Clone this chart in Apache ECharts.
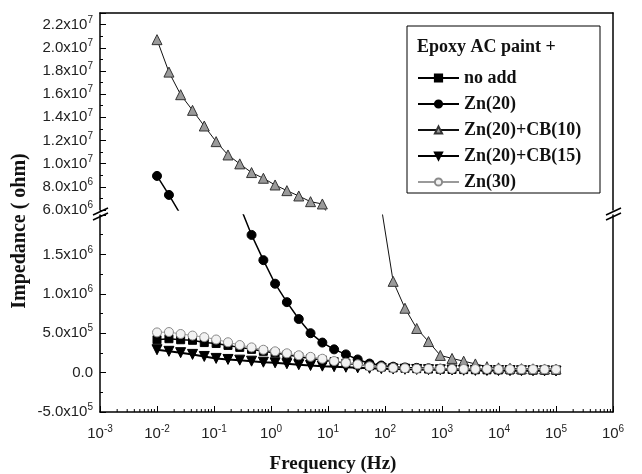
<!DOCTYPE html>
<html><head><meta charset="utf-8">
<script src="https://cdn.jsdelivr.net/npm/echarts@6/dist/echarts.min.js"></script>
<style>html,body{margin:0;padding:0;background:#fff}#c{width:642px;height:474px}</style>
</head><body><div id="c"></div>
<script>
// Frequencies (Hz)
const freq = [0.01, 0.0162, 0.026, 0.042, 0.0675, 0.109, 0.176, 0.283, 0.456, 0.735,
  1.18, 1.9, 3.07, 4.94, 7.96, 12.8, 20.6, 33.2, 53.5, 86.2,
  139, 224, 360, 580, 934, 1500, 2400, 3850, 6150, 9800,
  15600, 24800, 39500, 63000, 100000];
const seriesNames = ['no add', 'Zn(20)', 'Zn(20)+CB(10)', 'Zn(20)+CB(15)', 'Zn(30)'];
// Impedance (ohm)
const noAdd = [4.17e5, 4.3e5, 4.17e5, 4.1e5, 3.81e5, 3.7e5, 3.45e5, 3.2e5, 2.95e5, 2.7e5,
  2.5e5, 2.25e5, 2.0e5, 1.8e5, 1.6e5, 1.4e5, 1.2e5, 1.0e5, 8.5e4, 7.0e4,
  6.0e4, 5.5e4, 5.0e4, 4.5e4, 4.2e4, 4.0e4, 3.8e4, 3.6e4, 3.5e4, 3.4e4,
  3.3e4, 3.2e4, 3.1e4, 3.0e4, 3.0e4];
const zn20 = [8.94e6, 7.3e6, 5.6e6, 4.6e6, 3.8e6, 3.1e6, 2.6e6, 2.12e6, 1.747e6, 1.427e6,
  1.128e6, 8.94e5, 6.8e5, 5.0e5, 3.81e5, 2.95e5, 2.31e5, 1.67e5, 1.15e5, 9.0e4,
  7.5e4, 6.5e4, 6.0e4, 5.5e4, 5.0e4, 4.8e4, 4.5e4, 4.3e4, 4.1e4, 4.0e4,
  3.9e4, 3.8e4, 3.7e4, 3.6e4, 3.5e4];
const zn20cb10 = [2.07e7, 1.79e7, 1.595e7, 1.46e7, 1.325e7, 1.19e7, 1.075e7, 9.98e6, 9.23e6, 8.74e6,
  8.16e6, 7.67e6, 7.21e6, 6.72e6, 6.52e6, 4.5e6, 3.6e6, 3.0e6, 2.5e6, 2.1e6,
  1.158e6, 8.17e5, 5.6e5, 3.94e5, 2.18e5, 1.8e5, 1.45e5, 1.1e5, 7.5e4, 6.0e4,
  5.5e4, 5.0e4, 4.8e4, 4.6e4, 4.5e4];
const zn20cb15 = [2.9e5, 2.7e5, 2.53e5, 2.31e5, 2.05e5, 1.8e5, 1.67e5, 1.58e5, 1.45e5, 1.32e5,
  1.24e5, 1.12e5, 1.0e5, 9.0e4, 8.2e4, 7.5e4, 6.8e4, 6.0e4, 5.5e4, 5.0e4,
  4.5e4, 4.2e4, 4.0e4, 3.7e4, 3.5e4, 3.3e4, 3.0e4, 2.8e4, 2.7e4, 2.6e4,
  2.5e4, 2.4e4, 2.3e4, 2.2e4, 2.0e4];
const zn30 = [5.1e5, 5.15e5, 4.9e5, 4.7e5, 4.5e5, 4.2e5, 3.85e5, 3.5e5, 3.2e5, 2.9e5,
  2.7e5, 2.45e5, 2.2e5, 2.0e5, 1.76e5, 1.47e5, 1.25e5, 1.05e5, 8.0e4, 7.0e4,
  6.0e4, 5.5e4, 5.0e4, 5.0e4, 4.8e4, 4.7e4, 4.6e4, 4.5e4, 4.5e4, 4.4e4,
  4.3e4, 4.2e4, 4.2e4, 4.1e4, 4.0e4];
const allData = [noAdd, zn20, zn20cb10, zn20cb15, zn30];
// axis ranges / ticks
const xRange = [1e-3, 1e6];
const topRange = [6e6, 2.3e7], topStep = 2e6;
const botRange = [-5e5, 2e6], botStep = 5e5;
const legendTitle = 'Epoxy AC paint +';
const xTitle = 'Frequency (Hz)';
const yTitle = 'Impedance ( ohm)';

const styles = [
  {symbol: 'rect', size: 8, rot: 0, fill: '#000', border: '#000', lc: '#000', lw: 1.5},
  {symbol: 'circle', size: 9, rot: 0, fill: '#000', border: '#000', lc: '#000', lw: 1.5},
  {symbol: 'triangle', size: 10, rot: 0, fill: '#9a9a9a', border: '#333', lc: '#111', lw: 1},
  {symbol: 'triangle', size: 10, rot: 180, fill: '#000', border: '#000', lc: '#000', lw: 2},
  {symbol: 'circle', size: 9, rot: 0, fill: '#f2f2f2', border: '#8a8a8a', lc: '#9a9a9a', lw: 1}
];

const SANS = '"Liberation Sans", Arial, sans-serif';
const SERIF = '"Liberation Serif", "Times New Roman", serif';
const G0 = {left: 100, top: 13, width: 513, height: 197};
const G1 = {left: 100, top: 215, width: 513, height: 197};

const rich = {s: {fontSize: 10, fontFamily: SANS, color: '#222', padding: [0, 0, 9, 0]}};
function fmtTop(v) {
  const e = v >= 1e7 ? 7 : 6;
  return (v / Math.pow(10, e)).toFixed(1) + 'x10{s|' + e + '}';
}
function fmtBot(v) {
  if (Math.abs(v) < 1) return '0.0';
  const e = Math.abs(v) >= 1e6 ? 6 : 5;
  return (v / Math.pow(10, e)).toFixed(1) + 'x10{s|' + e + '}';
}
function fmtX(v) { return '10{s|' + Math.round(Math.log10(v)) + '}'; }

// minor log ticks 2..9 per decade
const minorFreqs = [];
for (let d = -3; d < 6; d++) for (let m = 2; m <= 9; m++) minorFreqs.push(m * Math.pow(10, d));

const series = [];
[0, 1].forEach(function (gi) {
  allData.forEach(function (arr, i) {
    const st = styles[i];
    series.push({
      name: seriesNames[i], type: 'line', xAxisIndex: gi, yAxisIndex: gi === 0 ? 0 : 2,
      data: freq.map(function (f, k) { return [f, arr[k]]; }),
      symbol: st.symbol, symbolSize: st.size, symbolRotate: st.rot,
      itemStyle: {color: st.fill, borderColor: st.border, borderWidth: 1},
      lineStyle: {color: st.lc, width: st.lw},
      clip: true, animation: false, z: 3 + i
    });
  });
});
series.push({
  type: 'custom', xAxisIndex: 1, yAxisIndex: 2, silent: true, animation: false,
  data: minorFreqs.map(function (f) { return [f, botRange[0]]; }),
  renderItem: function (params, api) {
    const p = api.coord([api.value(0), api.value(1)]);
    return {type: 'line', shape: {x1: p[0], y1: p[1], x2: p[0], y2: p[1] - 3},
      style: {stroke: '#000', lineWidth: 1}};
  }
});

const axisLineStyle = {color: '#000', width: 1.5};
const option = {
  backgroundColor: '#fff',
  animation: false,
  grid: [G0, G1],
  xAxis: [
    {gridIndex: 0, type: 'log', min: xRange[0], max: xRange[1], position: 'top',
      axisLine: {show: true, onZero: false, lineStyle: axisLineStyle}, axisTick: {show: false},
      axisLabel: {show: false}, splitLine: {show: false}},
    {gridIndex: 1, type: 'log', min: xRange[0], max: xRange[1], splitNumber: 10, position: 'bottom',
      axisLine: {show: true, onZero: false, lineStyle: axisLineStyle},
      axisTick: {show: true, inside: true, length: 6, lineStyle: {color: '#000', width: 1}},
      axisLabel: {formatter: fmtX, rich: rich, fontSize: 15, fontFamily: SANS, color: '#222', margin: 12},
      splitLine: {show: false}}
  ],
  yAxis: [
    {gridIndex: 0, type: 'value', min: topRange[0], max: topRange[1], interval: topStep,
      axisLine: {show: true, onZero: false, lineStyle: axisLineStyle},
      axisTick: {show: true, inside: true, length: 6, lineStyle: {color: '#000'}},
      minorTick: {show: true, splitNumber: 2, length: 3, lineStyle: {color: '#000'}},
      axisLabel: {formatter: fmtTop, rich: rich, fontSize: 15, fontFamily: SANS, color: '#222', showMaxLabel: false, margin: 7},
      splitLine: {show: false}},
    {gridIndex: 0, type: 'value', position: 'right', min: topRange[0], max: topRange[1],
      axisLine: {show: true, onZero: false, lineStyle: axisLineStyle}, axisTick: {show: false},
      axisLabel: {show: false}, splitLine: {show: false}},
    {gridIndex: 1, type: 'value', min: botRange[0], max: botRange[1], interval: botStep,
      axisLine: {show: true, onZero: false, lineStyle: axisLineStyle},
      axisTick: {show: true, inside: true, length: 6, lineStyle: {color: '#000'}},
      minorTick: {show: true, splitNumber: 2, length: 3, lineStyle: {color: '#000'}},
      axisLabel: {formatter: fmtBot, rich: rich, fontSize: 15, fontFamily: SANS, color: '#222', showMaxLabel: false, margin: 7},
      splitLine: {show: false}},
    {gridIndex: 1, type: 'value', position: 'right', min: botRange[0], max: botRange[1],
      axisLine: {show: true, onZero: false, lineStyle: axisLineStyle}, axisTick: {show: false},
      axisLabel: {show: false}, splitLine: {show: false}}
  ],
  legend: {
    data: seriesNames, orient: 'vertical', left: 412, top: 64,
    itemWidth: 41, itemHeight: 9, itemGap: 8, symbolRotate: 'inherit',
    textStyle: {fontFamily: SERIF, fontWeight: 'bold', fontSize: 18, color: '#111', lineHeight: 18}
  },
  graphic: [
    {type: 'rect', shape: {x: 407, y: 26, width: 193, height: 167}, style: {fill: 'none', stroke: '#000', lineWidth: 1}, z: 10},
    {type: 'text', x: 417, y: 47, style: {text: legendTitle, font: 'bold 18px ' + SERIF, fill: '#111', textVerticalAlign: 'middle'}, z: 10},
    {type: 'text', x: 20, y: 231, rotation: Math.PI / 2,
      style: {text: yTitle, font: 'bold 20px ' + SERIF, fill: '#111', textAlign: 'center', textVerticalAlign: 'middle'}, z: 10},
    {type: 'text', x: 333, y: 464,
      style: {text: xTitle, font: 'bold 19px ' + SERIF, fill: '#111', textAlign: 'center', textVerticalAlign: 'middle'}, z: 10},
    {type: 'line', shape: {x1: 93, y1: 215, x2: 108, y2: 208}, style: {stroke: '#000', lineWidth: 1.5}, z: 10},
    {type: 'line', shape: {x1: 93, y1: 220, x2: 108, y2: 213}, style: {stroke: '#000', lineWidth: 1.5}, z: 10},
    {type: 'line', shape: {x1: 606, y1: 215, x2: 621, y2: 208}, style: {stroke: '#000', lineWidth: 1.5}, z: 10},
    {type: 'line', shape: {x1: 606, y1: 220, x2: 621, y2: 213}, style: {stroke: '#000', lineWidth: 1.5}, z: 10}
  ],
  series: series
};
const chart = echarts.init(document.getElementById('c'), null, {renderer: 'canvas'});
chart.setOption(option);
</script></body></html>
